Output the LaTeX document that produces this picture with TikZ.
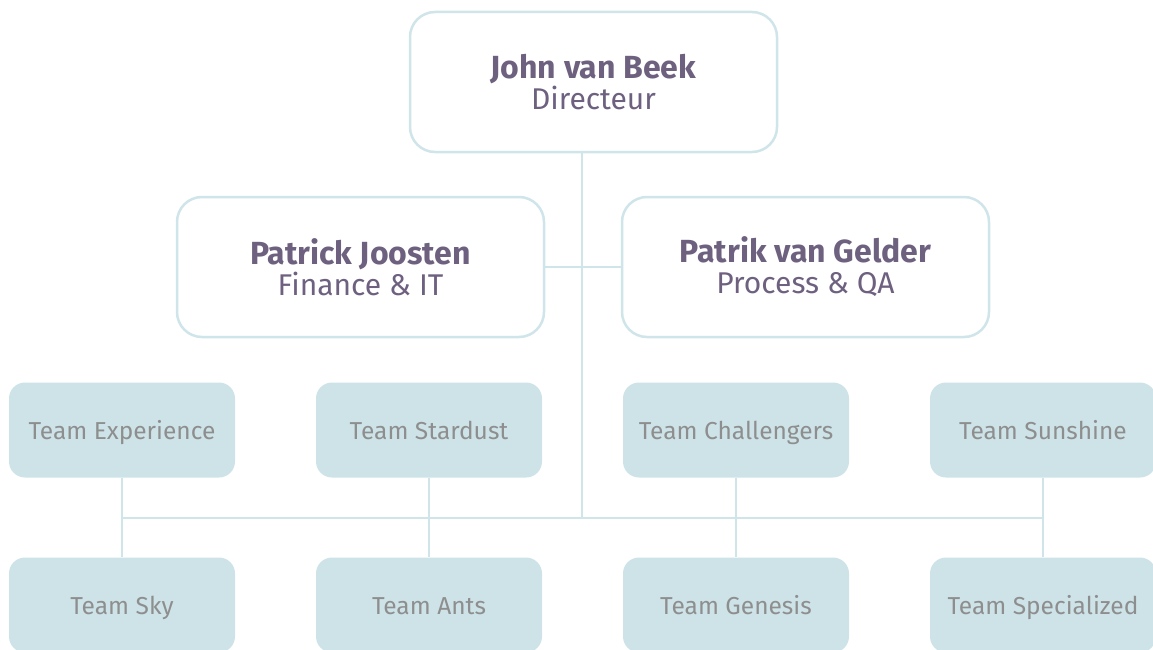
\documentclass[tikz,border=0pt]{standalone}
\usepackage{fontspec}
\setmainfont{Fira Sans}
\definecolor{linecol}{HTML}{CFE5EA}
\definecolor{teamcol}{HTML}{CDE3E8}
\definecolor{namecol}{HTML}{6E6180}
\definecolor{teamtext}{HTML}{8E8E8E}

\begin{document}
\begin{tikzpicture}[x=1pt,y=-1pt,
  boss/.style={rectangle,rounded corners=25pt,draw=linecol,line width=2.5pt,fill=white,
    minimum width=367pt,minimum height=140pt,align=center,text=namecol,
    font=\fontsize{30}{33}\selectfont},
  team/.style={rectangle,rounded corners=16pt,fill=teamcol,minimum width=226pt,
    minimum height=95pt,text=teamtext,text height=20pt,text depth=2pt,
    font=\fontsize{24.5}{27}\selectfont},
  link/.style={draw=linecol,line width=2pt}]
  \useasboundingbox (0,0) rectangle (1153,650);
  \node[boss] (john) at (593.5,82) {{\fontsize{32}{34}\selectfont\textbf{John van Beek}}\\[-2pt]Directeur};
  \node[boss] (joosten) at (360.5,267) {{\fontsize{32}{34}\selectfont\textbf{Patrick Joosten}}\\[-2pt]Finance \& IT};
  \node[boss] (gelder) at (805.5,267) {{\fontsize{32}{34}\selectfont\textbf{Patrik van Gelder}}\\[-2pt]Process \& QA};
  \node[team] (experience) at (122,430) {Team Experience};
  \node[team] (stardust) at (429,430) {Team Stardust};
  \node[team] (challengers) at (736,430) {Team Challengers};
  \node[team] (sunshine) at (1043,430) {Team Sunshine};
  \node[team] (sky) at (122,605) {Team Sky};
  \node[team] (ants) at (429,605) {Team Ants};
  \node[team] (genesis) at (736,605) {Team Genesis};
  \node[team] (specialized) at (1043,605) {Team Specialized};
  \coordinate (trunk) at (582,518);
  \draw[link] (trunk |- john.south) -- (trunk);
  \draw[link] (joosten.east) -- (gelder.west);
  \draw[link] (experience.south |- trunk) -- (sunshine.south |- trunk);
  \draw[link] (experience.south) -- (sky.north);
  \draw[link] (stardust.south) -- (ants.north);
  \draw[link] (challengers.south) -- (genesis.north);
  \draw[link] (sunshine.south) -- (specialized.north);
\end{tikzpicture}
\end{document}
